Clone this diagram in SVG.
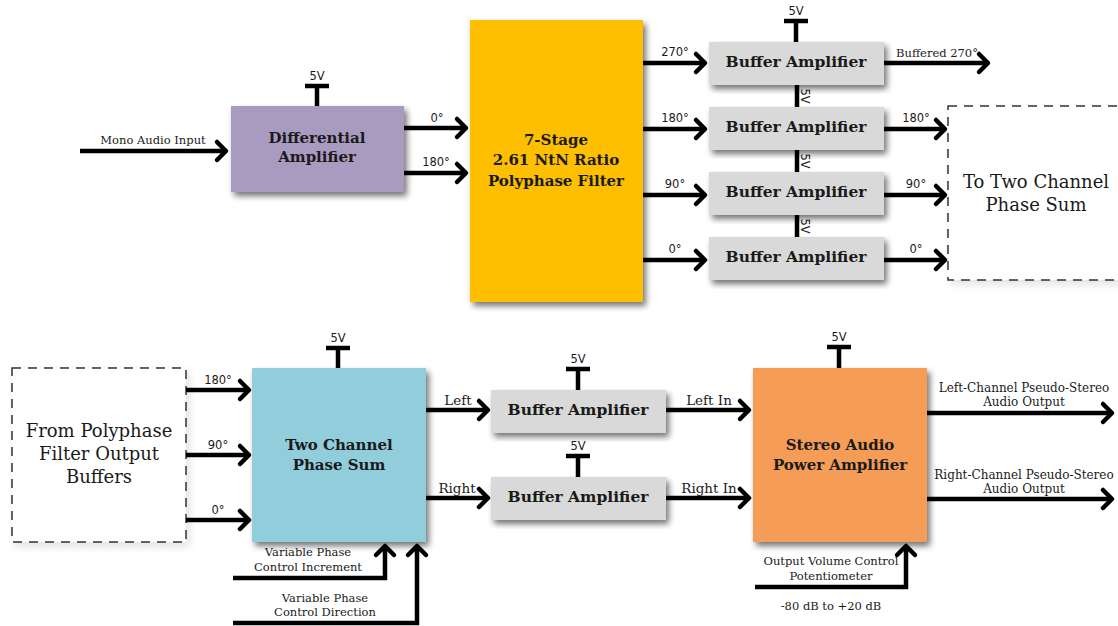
<svg xmlns="http://www.w3.org/2000/svg" width="1118" height="626" viewBox="0 0 1118 626">
  <defs>
    <filter id="shadow" x="-10%" y="-10%" width="130%" height="130%">
      <feGaussianBlur in="SourceAlpha" stdDeviation="3"/>
      <feOffset dx="3" dy="4" result="b"/>
      <feComponentTransfer><feFuncA type="linear" slope="0.55"/></feComponentTransfer>
      <feMerge><feMergeNode/><feMergeNode in="SourceGraphic"/></feMerge>
    </filter>
    <filter id="softshadow" x="-10%" y="-10%" width="130%" height="130%">
      <feGaussianBlur in="SourceAlpha" stdDeviation="4"/>
      <feOffset dx="3" dy="4" result="b"/>
      <feComponentTransfer><feFuncA type="linear" slope="0.12"/></feComponentTransfer>
      <feMerge><feMergeNode/><feMergeNode in="SourceGraphic"/></feMerge>
    </filter>
    <marker id="arr" markerUnits="userSpaceOnUse" markerWidth="24" markerHeight="26" viewBox="-4 -13 24 26" refX="9" refY="0" orient="auto">
      <path d="M0,-9 L9,0 L0,9" fill="none" stroke="#000" stroke-width="4.5" stroke-linecap="round" stroke-linejoin="round"/>
    </marker>
  </defs>
  <style>
    .wire { fill: none; stroke: #000; stroke-width: 4.5; }
    .arrow { fill: none; stroke: #000; stroke-width: 4.5; marker-end: url(#arr); }
    .pwr { fill: none; stroke: #000; stroke-width: 4.5; }
    .title { font-family: "DejaVu Serif", "Liberation Serif", serif; font-weight: bold; font-size: 15px; fill: #1a1a1a; text-anchor: middle; }
    .btitle { font-size: 15.5px; }
    .big { font-family: "DejaVu Serif", "Liberation Serif", serif; font-size: 18px; fill: #1a1a1a; text-anchor: middle; }
    .lbl { font-family: "DejaVu Serif", "Liberation Serif", serif; font-size: 11.5px; fill: #1a1a1a; text-anchor: middle; }
    .lbl2 { font-family: "DejaVu Serif", "Liberation Serif", serif; font-size: 13.5px; fill: #1a1a1a; text-anchor: middle; }
    .out { font-size: 12px; }
    .sans { font-family: "DejaVu Sans", "Liberation Sans", sans-serif; font-size: 11.5px; fill: #1a1a1a; text-anchor: middle; }
    .buf { fill: #d9d9d9; }
    .dash { fill: #fff; stroke: #333; stroke-width: 1.5; stroke-dasharray: 9 7; }
  </style>
  <rect width="1118" height="626" fill="#fff"/>

  <!-- Top row -->
  <g id="diff-amp">
    <rect x="231" y="106" width="173" height="86" fill="#a99bc0" filter="url(#shadow)"/>
    <text class="title" x="317" y="143">Differential</text>
    <text class="title" x="317" y="162">Amplifier</text>
    <path class="pwr" d="M317,106 V86 M305,86 H329"/>
    <text class="sans" x="317" y="80">5V</text>
  </g>

  <g id="polyphase">
    <rect x="470" y="20" width="173" height="282" fill="#fdbf00" filter="url(#shadow)"/>
    <text class="title" x="556" y="145">7-Stage</text>
    <text class="title" x="556" y="165">2.61 NtN Ratio</text>
    <text class="title" x="556" y="186">Polyphase Filter</text>
  </g>

  <g id="buf1">
    <rect class="buf" x="709" y="42" width="175" height="43" filter="url(#shadow)"/>
    <text class="title btitle" x="796" y="67">Buffer Amplifier</text>
    <path class="pwr" d="M796,42 V21 M784,21 H808"/>
    <text class="sans" x="796" y="15">5V</text>
  </g>
  <g id="buf2">
    <rect class="buf" x="709" y="107" width="175" height="43" filter="url(#shadow)"/>
    <text class="title btitle" x="796" y="132">Buffer Amplifier</text>
    <path class="pwr" d="M797,85 V107"/>
    <text class="sans" transform="translate(801,96) rotate(90)" x="0" y="0">5V</text>
  </g>
  <g id="buf3">
    <rect class="buf" x="709" y="172" width="175" height="43" filter="url(#shadow)"/>
    <text class="title btitle" x="796" y="197">Buffer Amplifier</text>
    <path class="pwr" d="M797,150 V172"/>
    <text class="sans" transform="translate(801,161) rotate(90)" x="0" y="0">5V</text>
  </g>
  <g id="buf4">
    <rect class="buf" x="709" y="237" width="175" height="43" filter="url(#shadow)"/>
    <text class="title btitle" x="796" y="262">Buffer Amplifier</text>
    <path class="pwr" d="M797,215 V237"/>
    <text class="sans" transform="translate(801,226) rotate(90)" x="0" y="0">5V</text>
  </g>

  <g id="to-phase-sum">
    <rect class="dash" x="948" y="106" width="180" height="174" filter="url(#softshadow)"/>
    <text class="big" x="1036" y="188">To Two Channel</text>
    <text class="big" x="1036" y="211">Phase Sum</text>
  </g>

  <!-- Bottom row -->
  <g id="from-polyphase">
    <rect class="dash" x="12" y="368" width="174" height="174" filter="url(#softshadow)"/>
    <text class="big" x="99" y="437">From Polyphase</text>
    <text class="big" x="99" y="460">Filter Output</text>
    <text class="big" x="99" y="483">Buffers</text>
  </g>

  <g id="phase-sum">
    <rect x="252" y="368" width="174" height="174" fill="#92cddc" filter="url(#shadow)"/>
    <text class="title" x="339" y="450">Two Channel</text>
    <text class="title" x="339" y="470">Phase Sum</text>
    <path class="pwr" d="M338,368 V348 M326,348 H350"/>
    <text class="sans" x="338" y="342">5V</text>
  </g>

  <g id="buf-left">
    <rect class="buf" x="491" y="390" width="175" height="43" filter="url(#shadow)"/>
    <text class="title btitle" x="578" y="415">Buffer Amplifier</text>
    <path class="pwr" d="M578,390 V369 M566,369 H590"/>
    <text class="sans" x="578" y="363">5V</text>
  </g>
  <g id="buf-right">
    <rect class="buf" x="491" y="477" width="175" height="43" filter="url(#shadow)"/>
    <text class="title btitle" x="578" y="502">Buffer Amplifier</text>
    <path class="pwr" d="M578,477 V456 M566,456 H590"/>
    <text class="sans" x="578" y="450">5V</text>
  </g>

  <g id="power-amp">
    <rect x="753" y="368" width="174" height="174" fill="#f59d56" filter="url(#shadow)"/>
    <text class="title" x="840" y="450">Stereo Audio</text>
    <text class="title" x="840" y="470">Power Amplifier</text>
    <path class="pwr" d="M839,368 V347 M827,347 H851"/>
    <text class="sans" x="839" y="341">5V</text>
  </g>

  <!-- Connectors -->
  <g id="connectors">
    <path class="arrow" d="M80,151 H226"/>
    <path class="arrow" d="M404,128 H466"/>
    <path class="arrow" d="M404,173 H466"/>
    <path class="arrow" d="M643,63 H705"/>
    <path class="arrow" d="M643,129 H705"/>
    <path class="arrow" d="M643,195 H705"/>
    <path class="arrow" d="M643,260 H705"/>
    <path class="arrow" d="M884,63 H988"/>
    <path class="arrow" d="M884,129 H945"/>
    <path class="arrow" d="M884,195 H945"/>
    <path class="arrow" d="M884,260 H945"/>

    <path class="arrow" d="M186,390 H249"/>
    <path class="arrow" d="M186,455 H249"/>
    <path class="arrow" d="M186,520 H249"/>
    <path class="arrow" d="M233,578 H385 V546"/>
    <path class="arrow" d="M233,623 H417 V546"/>
    <path class="arrow" d="M426,410 H488"/>
    <path class="arrow" d="M426,498 H488"/>
    <path class="arrow" d="M666,410 H749"/>
    <path class="arrow" d="M666,498 H749"/>
    <path class="arrow" d="M927,413 H1112"/>
    <path class="arrow" d="M927,499 H1112"/>
    <path class="arrow" d="M755,587 H906 V546"/>
  </g>

  <!-- Connector labels -->
  <g id="labels">
    <text class="lbl" x="153" y="144">Mono Audio Input</text>
    <text class="sans" x="437" y="122">0°</text>
    <text class="sans" x="436" y="166">180°</text>
    <text class="sans" x="675" y="56">270°</text>
    <text class="sans" x="675" y="122">180°</text>
    <text class="sans" x="675" y="188">90°</text>
    <text class="sans" x="675" y="253">0°</text>
    <text class="lbl" x="937" y="57">Buffered 270°</text>
    <text class="sans" x="916" y="122">180°</text>
    <text class="sans" x="916" y="188">90°</text>
    <text class="sans" x="916" y="253">0°</text>

    <text class="sans" x="218" y="384">180°</text>
    <text class="sans" x="218" y="449">90°</text>
    <text class="sans" x="218" y="514">0°</text>
    <text class="lbl" x="308" y="556">Variable Phase</text>
    <text class="lbl" x="308" y="571">Control Increment</text>
    <text class="lbl" x="325" y="602">Variable Phase</text>
    <text class="lbl" x="325" y="616">Control Direction</text>
    <text class="lbl2" x="458" y="405">Left</text>
    <text class="lbl2" x="457" y="493">Right</text>
    <text class="lbl2" x="709" y="405">Left In</text>
    <text class="lbl2" x="709" y="493">Right In</text>
    <text class="lbl out" x="1024" y="392">Left-Channel Pseudo-Stereo</text>
    <text class="lbl out" x="1024" y="406">Audio Output</text>
    <text class="lbl out" x="1024" y="479">Right-Channel Pseudo-Stereo</text>
    <text class="lbl out" x="1024" y="493">Audio Output</text>
    <text class="lbl" x="831" y="565">Output Volume Control</text>
    <text class="lbl" x="831" y="580">Potentiometer</text>
    <text class="lbl" x="831" y="610">-80 dB to +20 dB</text>
  </g>
</svg>
